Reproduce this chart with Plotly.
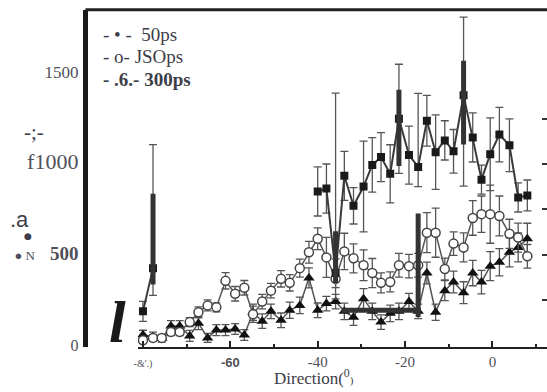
import plotly.graph_objects as go

# ---- data -------------------------------------------------------------
direction = [-80.0, -77.7, -75.7, -73.6, -71.6, -69.3, -67.3, -65.2, -63.2, -61.1,
             -58.9, -56.8, -54.8, -52.7, -50.7, -48.4, -46.4, -44.1, -42.0, -40.0,
             -38.0, -35.9, -33.9, -31.8, -29.5, -27.5, -25.5, -23.4, -21.4, -19.1,
             -17.0, -15.0, -13.0, -10.9, -8.9, -6.6, -4.5, -2.5, -0.5, 1.6,
             3.9, 5.9, 8.0]

ps50 = [189, 427, None, None, None, None, None, None, None, None,
        None, None, None, None, None, None, None, None, None, 849,
        865, 400, 935, 770, 876, 995, 1038, 946, 1249, 1049,
        984, 1238, 1065, 1130, 1070, 1378, 1146, 914, 1054, 1162,
        1103, 816, 827]
ps50_err_up = [55, 680, 0, 0, 0, 0, 0, 0, 0, 0,
               0, 0, 0, 0, 0, 0, 0, 0, 0, 135,
               135, 990, 135, 100, 250, 150, 135, 160, 300, 160,
               405, 140, 205, 108, 120, 430, 135, 80, 200, 150,
               145, 80, 85]
ps50_err_dn = [55, 150, 0, 0, 0, 0, 0, 0, 0, 0,
               0, 0, 0, 0, 0, 0, 0, 0, 0, 135,
               135, 80, 135, 100, 250, 150, 135, 160, 300, 160,
               108, 140, 205, 108, 120, 500, 135, 80, 200, 150,
               145, 80, 85]

ps150 = [30, 43, 43, 76, 76, 130, 184, 222, 211, 357,
         286, 319, 173, 243, 303, 368, 346, 427, 514, 589,
         486, 368, 519, 481, 443, 400, 346, 351, 443, 438,
         443, 622, 622, 422, 562, 541, 703, 724, 724, 714,
         616, 595, 492]
ps150_err = [15, 15, 15, 20, 20, 25, 30, 30, 25, 45,
             40, 40, 45, 40, 40, 45, 45, 50, 60, 60,
             110, 110, 100, 80, 85, 80, 55, 55, 65, 65,
             65, 110, 135, 60, 65, 80, 95, 100, 160, 110,
             80, 80, 65]

ps300 = [60, 50, 40, 108, 108, 54, 124, 43, 86, 86,
         92, 59, 184, 135, 189, 140, 195, 222, 373, 195,
         232, 243, 189, 157, 259, 189, 130, 178, 189, 243,
         189, 400, 184, 303, 351, 292, 400, 350, 438, 459,
         514, 541, 589]
ps300_err = [25, 25, 20, 30, 30, 30, 35, 25, 30, 30,
             30, 30, 45, 40, 40, 40, 45, 45, 55, 40,
             40, 40, 45, 45, 55, 45, 40, 45, 45, 45,
             40, 60, 45, 55, 60, 60, 70, 65, 80, 75,
             80, 80, 85]

# heavy (overprinted) error bars: (series, index, up, down)
heavy_series = ["ps50", "ps50", "ps50", "ps150", "ps50"]
heavy_index = [1, 21, 28, 30, 35]
heavy_up = [410, 230, 160, 285, 190]
heavy_dn = [90, 55, 260, 285, 270]

# overprinted horizontal bar
band_x = [-34.5, -16.4]
band_y = [195, 195]

legend_labels = ["- \u2022 -&nbsp; 50ps", "- o- JSOps", "<b>- .6.- 300ps</b>"]

x_tickvals = [-80, -60, -40, -20, 0]
x_ticktext = ["<span style='font-size:10px'>-&amp;'.)</span>",
              "<span style='font-family:Liberation Sans;font-weight:bold;font-size:13px'>-60</span>",
              "-40", "-20", "0"]
y_tickvals = [0, 500, 1000, 1500]
y_ticktext = ["<span style='font-size:16px'>0</span>",
              "<span style='font-size:13px'>\u25cf N</span>&nbsp;&nbsp;&nbsp; <b><span style='font-size:19px'>500</span></b>",
              "<span style='font-size:22px'>f1000</span>",
              "<span style='font-size:17px'>1500</span>"]
right_ticks = [250, 500, 750, 1000, 1250]

# ---- figure -----------------------------------------------------------
W, H = 547, 392
SERIF = "Liberation Serif"
LINE = "#555"
TEXT = "#3d3d48"

def px_x(p):
    return p / W

def px_y(p):
    return 1 - p / H

fig = go.Figure()

fig.add_trace(go.Scatter(
    x=direction, y=ps300, mode="lines+markers", name="300ps",
    line=dict(color=LINE, width=1.5),
    marker=dict(symbol="triangle-up", size=10, color="#111"),
    error_y=dict(type="data", array=ps300_err, color=LINE, thickness=1.3, width=4),
))
fig.add_trace(go.Scatter(
    x=direction, y=ps150, mode="lines+markers", name="150ps",
    line=dict(color=LINE, width=1.5),
    marker=dict(symbol="circle", size=9, color="white", line=dict(color="#444", width=1.5)),
    error_y=dict(type="data", array=ps150_err, color=LINE, thickness=1.3, width=4),
))
fig.add_trace(go.Scatter(
    x=direction, y=ps50, mode="lines+markers", name="50ps",
    line=dict(color="#3a3a3a", width=2), connectgaps=False,
    marker=dict(symbol="square", size=8, color="#1a1a1a"),
    error_y=dict(type="data", symmetric=False, array=ps50_err_up,
                 arrayminus=ps50_err_dn, color=LINE, thickness=1.3, width=4),
))

series = {"ps50": ps50, "ps150": ps150}
hx = [direction[i] for i in heavy_index]
hy = [series[s][i] for s, i in zip(heavy_series, heavy_index)]
fig.add_trace(go.Scatter(
    x=hx, y=hy, mode="markers", marker=dict(size=1, color="rgba(0,0,0,0)"),
    error_y=dict(type="data", symmetric=False, array=heavy_up, arrayminus=heavy_dn,
                 color="#333", thickness=5, width=0),
))
fig.add_trace(go.Scatter(
    x=band_x, y=band_y, mode="lines", line=dict(color="#333", width=5),
))

# frame: top rule
fig.add_shape(type="line", xref="paper", yref="paper",
              x0=px_x(82), x1=1, y0=px_y(10), y1=px_y(10),
              line=dict(color="#222", width=3))

annotations = []
for k, lab in enumerate(legend_labels):
    annotations.append(dict(text=lab, x=px_x(98), y=px_y(35 + 23 * k),
                            xanchor="left", yanchor="middle",
                            font=dict(family=SERIF, size=19, color=TEXT)))
annotations += [
    dict(text="-;-", x=px_x(30), y=px_y(134), font=dict(family=SERIF, size=21, color=TEXT)),
    dict(text=".a", x=px_x(16), y=px_y(223), font=dict(family="Liberation Sans", size=22, color=TEXT)),
    dict(text="\u25cf", x=px_x(24.5), y=px_y(240), font=dict(family="DejaVu Sans", size=9, color=TEXT)),
    dict(text="<b><i>l</i></b>", x=px_x(114), y=px_y(328), font=dict(family=SERIF, size=60, color="#1a1a1a")),
    dict(text="Direction(<sup>0</sup><span style='font-size:11px'>)</span>",
         x=px_x(312), y=px_y(384), font=dict(family=SERIF, size=17, color=TEXT)),
]
for a in annotations:
    a.setdefault("showarrow", False)
    a.setdefault("xref", "paper")
    a.setdefault("yref", "paper")
    a.setdefault("xanchor", "center")
    a.setdefault("yanchor", "middle")

y_range = [(352 - 353) / 0.185, (352 - 10) / 0.185]
x_range = [(135 - 492) / 4.4, (547 - 492) / 4.4]

fig.update_layout(
    width=W, height=H,
    margin=dict(l=0, r=0, t=0, b=0),
    paper_bgcolor="white", plot_bgcolor="white",
    showlegend=False,
    font=dict(family=SERIF, size=14, color=TEXT),
    annotations=annotations,
    xaxis=dict(
        domain=[135 / W, 1], range=x_range,
        showgrid=False, zeroline=False,
        showline=True, linecolor="#222", linewidth=2,
        tickmode="array", tickvals=x_tickvals, ticktext=x_ticktext,
        ticks="inside", ticklen=6, tickwidth=2, tickcolor="#222",
        minor=dict(tickmode="linear", tick0=-80, dtick=10, ticks="inside",
                   ticklen=3, tickwidth=2, tickcolor="#222"),
        tickfont=dict(family=SERIF, size=15, color="#50505a"),
    ),
    yaxis=dict(
        domain=[1 - 353 / H, 1 - 10 / H], range=y_range,
        side="right", showgrid=False, zeroline=False, showline=False,
        tickmode="array", tickvals=right_ticks, showticklabels=False,
        ticks="inside", ticklen=5, tickwidth=2, tickcolor="#333",
    ),
    yaxis2=dict(
        overlaying="y", anchor="free", position=82 / W, side="left",
        range=y_range, showgrid=False, zeroline=False,
        showline=True, linecolor="#1a1a1a", linewidth=5,
        tickmode="array", tickvals=y_tickvals, ticktext=y_ticktext,
        ticks="", ticklabelstandoff=2,
        tickfont=dict(family=SERIF, size=15, color="#50505a"),
    ),
)

# placeholder trace so the left labelled axis is rendered
fig.add_trace(go.Scatter(x=[None], y=[None], yaxis="y2", showlegend=False))

fig.write_html("out.html")
